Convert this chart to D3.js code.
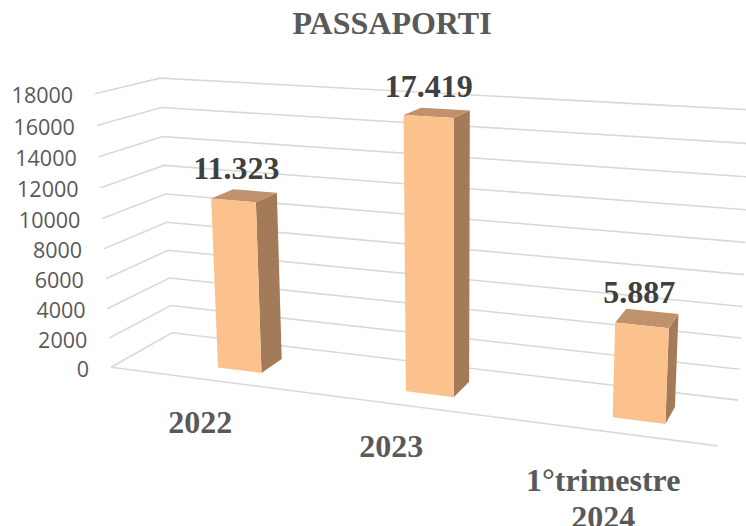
<!DOCTYPE html>
<html>
<head>
<meta charset="utf-8">
<script src="https://cdn.jsdelivr.net/npm/d3@7"></script>
<style>
  html, body { margin: 0; padding: 0; background: #fff; }
  svg { display: block; }
</style>
</head>
<body>
<div id="chart"></div>
<script>
const categories = ['2022', '2023', '1°trimestre 2024'];
const passaporti = [11323, 17419, 5887];
const yTicks = [0, 2000, 4000, 6000, 8000, 10000, 12000, 14000, 16000, 18000];
const chartTitle = 'PASSAPORTI';

const width = 746, height = 526;

// where the corners of the 3d box land on the page: [u, v, w, px, py]
// u = along categories, v = up the value axis, w = into the depth
const boxCorners = [
    [0, 0, 0, 111, 367],
    [1, 0, 0, 717.5, 446],
    [0, 0, 1, 172, 333],
    [1, 0, 1, 738, 400],
    [0, 1, 0, 95, 94],
    [0, 1, 1, 160, 78],
    [1, 1, 1, 752, 110]
];

// least squares fit of a 3x4 camera matrix (last entry fixed to 1)
function fitCamera(points) {
    const n = 11;
    const ata = d3.range(n).map(() => new Array(n + 1).fill(0));
    const addRow = (row, b) => {
        for (let i = 0; i < n; i++) {
            for (let j = 0; j < n; j++) ata[i][j] += row[i] * row[j];
            ata[i][n] += row[i] * b;
        }
    };
    points.forEach(([u, v, w, x, y]) => {
        addRow([u, v, w, 1, 0, 0, 0, 0, -x * u, -x * v, -x * w], x);
        addRow([0, 0, 0, 0, u, v, w, 1, -y * u, -y * v, -y * w], y);
    });
    for (let i = 0; i < n; i++) {
        let pivot = i;
        for (let r = i + 1; r < n; r++) {
            if (Math.abs(ata[r][i]) > Math.abs(ata[pivot][i])) pivot = r;
        }
        [ata[i], ata[pivot]] = [ata[pivot], ata[i]];
        for (let r = 0; r < n; r++) {
            if (r === i) continue;
            const f = ata[r][i] / ata[i][i];
            for (let c = i; c <= n; c++) ata[r][c] -= f * ata[i][c];
        }
    }
    return d3.range(n).map(i => ata[i][n] / ata[i][i]);
}

const cam = fitCamera(boxCorners);
function project(u, v, w) {
    const d = cam[8] * u + cam[9] * v + cam[10] * w + 1;
    return [
        (cam[0] * u + cam[1] * v + cam[2] * w + cam[3]) / d,
        (cam[4] * u + cam[5] * v + cam[6] * w + cam[7]) / d
    ];
}

const y = d3.scaleLinear().domain([0, 18000]).range([0, 1]);
const x = d3.scaleBand().domain(categories).range([0.04, 1.04]).paddingInner(0.76).paddingOuter(0.38);
const depthFront = 0.3, depthBack = 0.68;

const line = d3.line();
const fmt = d3.formatLocale({ decimal: ',', thousands: '.', grouping: [3], currency: ['', ''] }).format(',d');

// hand placed in the original, so they do not follow the axis exactly
const categoryOffsets = [[-22, 51], [-25, 50], [-27, 56]];
const valueOffsets = [[-18.5, -12], [-16.5, -12], [-13, -8]];

const svg = d3.select('#chart').append('svg')
    .attr('width', width)
    .attr('height', height);

svg.append('text')
    .attr('x', 392)
    .attr('y', 34)
    .attr('text-anchor', 'middle')
    .style('font', 'bold 32px "Liberation Serif"')
    .style('fill', '#595959')
    .text(chartTitle);

// walls
svg.append('g').selectAll('path')
    .data(yTicks)
    .enter()
    .append('path')
    .attr('d', d => line([project(0, y(d), 0), project(0, y(d), 1), project(1, y(d), 1)]))
    .attr('fill', 'none')
    .attr('stroke', '#d9d9d9')
    .attr('stroke-width', 1.6);

// front edge of the floor
svg.append('path')
    .attr('d', line([project(0, 0, 0), project(1, 0, 0)]))
    .attr('fill', 'none')
    .attr('stroke', '#d9d9d9')
    .attr('stroke-width', 1.6);

// value axis labels
svg.append('g').selectAll('text')
    .data(yTicks)
    .enter()
    .append('text')
    .attr('x', d => project(0, y(d), 0)[0] - 22)
    .attr('y', d => project(0, y(d), 0)[1] + 9.5)
    .attr('text-anchor', 'end')
    .style('font', '21.5px "Open Sans"')
    .style('fill', '#595959')
    .text(d => d);

// bars
const bars = svg.append('g').selectAll('g')
    .data(categories.map((c, i) => ({ category: c, value: passaporti[i], offset: valueOffsets[i] })))
    .enter()
    .append('g');

const barFace = (d, corners) => line(corners.map(([du, top, w]) =>
    project(x(d.category) + du * x.bandwidth(), top ? y(d.value) : 0, w))) + 'Z';

bars.append('path')
    .attr('fill', '#a47b59')
    .attr('d', d => barFace(d, [[1, 0, depthFront], [1, 0, depthBack], [1, 1, depthBack], [1, 1, depthFront]]));
bars.append('path')
    .attr('fill', '#bf926c')
    .attr('d', d => barFace(d, [[0, 1, depthFront], [1, 1, depthFront], [1, 1, depthBack], [0, 1, depthBack]]));
bars.append('path')
    .attr('fill', '#fcc28d')
    .attr('d', d => barFace(d, [[0, 0, depthFront], [1, 0, depthFront], [1, 1, depthFront], [0, 1, depthFront]]));

// value labels on top of the bars
bars.append('text')
    .attr('x', d => project(x(d.category) + x.bandwidth() / 2, y(d.value), depthBack)[0] + d.offset[0])
    .attr('y', d => project(x(d.category) + x.bandwidth() / 2, y(d.value), depthBack)[1] + d.offset[1])
    .attr('text-anchor', 'middle')
    .style('font', 'bold 32px "Liberation Serif"')
    .style('fill', '#404040')
    .text(d => fmt(d.value));

// category labels, long one breaks on two lines
svg.append('g').selectAll('text')
    .data(categories)
    .enter()
    .append('text')
    .attr('transform', (d, i) => {
        const p = project(x(d) + x.bandwidth() / 2, 0, 0);
        return 'translate(' + (p[0] + categoryOffsets[i][0]) + ',' + (p[1] + categoryOffsets[i][1]) + ')';
    })
    .attr('text-anchor', 'middle')
    .style('font', 'bold 32px "Liberation Serif"')
    .style('fill', '#595959')
    .selectAll('tspan')
    .data(d => d.split(' '))
    .enter()
    .append('tspan')
    .attr('x', 0)
    .attr('dy', (d, i) => i ? 37 : 0)
    .text(d => d);
</script>
</body>
</html>
